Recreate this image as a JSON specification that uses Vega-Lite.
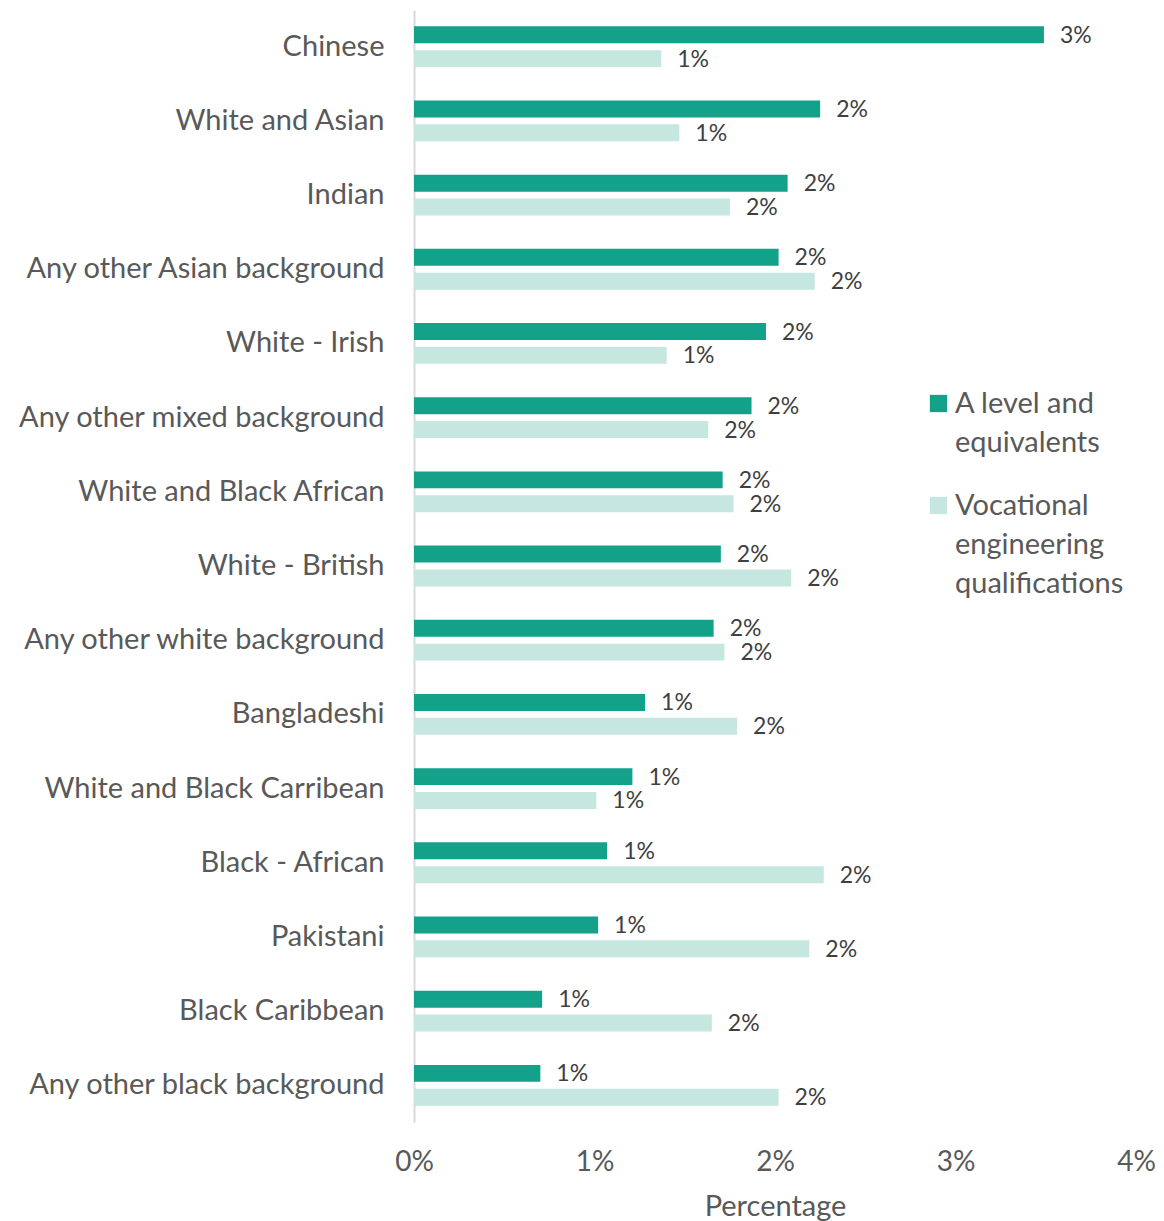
{
  "$schema": "https://vega.github.io/schema/vega-lite/v6.json",
  "autosize": "none",
  "width": 722,
  "height": 1112,
  "padding": {"left": 414, "top": 10, "right": 28, "bottom": 99},
  "background": "white",
  "config": {
    "font": "Lato",
    "view": {"stroke": null},
    "axis": {"labelColor": "#595959", "titleColor": "#595959", "titleFontWeight": "normal"}
  },
  "data": {
    "values": [
      {"group": "Chinese", "series": "A level and equivalents", "value": 0.0349},
      {"group": "Chinese", "series": "Vocational engineering qualifications", "value": 0.0137},
      {"group": "White and Asian", "series": "A level and equivalents", "value": 0.0225},
      {"group": "White and Asian", "series": "Vocational engineering qualifications", "value": 0.0147},
      {"group": "Indian", "series": "A level and equivalents", "value": 0.0207},
      {"group": "Indian", "series": "Vocational engineering qualifications", "value": 0.0175},
      {"group": "Any other Asian background", "series": "A level and equivalents", "value": 0.0202},
      {"group": "Any other Asian background", "series": "Vocational engineering qualifications", "value": 0.0222},
      {"group": "White - Irish", "series": "A level and equivalents", "value": 0.0195},
      {"group": "White - Irish", "series": "Vocational engineering qualifications", "value": 0.0140},
      {"group": "Any other mixed background", "series": "A level and equivalents", "value": 0.0187},
      {"group": "Any other mixed background", "series": "Vocational engineering qualifications", "value": 0.0163},
      {"group": "White and Black African", "series": "A level and equivalents", "value": 0.0171},
      {"group": "White and Black African", "series": "Vocational engineering qualifications", "value": 0.0177},
      {"group": "White - British", "series": "A level and equivalents", "value": 0.0170},
      {"group": "White - British", "series": "Vocational engineering qualifications", "value": 0.0209},
      {"group": "Any other white background", "series": "A level and equivalents", "value": 0.0166},
      {"group": "Any other white background", "series": "Vocational engineering qualifications", "value": 0.0172},
      {"group": "Bangladeshi", "series": "A level and equivalents", "value": 0.0128},
      {"group": "Bangladeshi", "series": "Vocational engineering qualifications", "value": 0.0179},
      {"group": "White and Black Carribean", "series": "A level and equivalents", "value": 0.0121},
      {"group": "White and Black Carribean", "series": "Vocational engineering qualifications", "value": 0.0101},
      {"group": "Black - African", "series": "A level and equivalents", "value": 0.0107},
      {"group": "Black - African", "series": "Vocational engineering qualifications", "value": 0.0227},
      {"group": "Pakistani", "series": "A level and equivalents", "value": 0.0102},
      {"group": "Pakistani", "series": "Vocational engineering qualifications", "value": 0.0219},
      {"group": "Black Caribbean", "series": "A level and equivalents", "value": 0.0071},
      {"group": "Black Caribbean", "series": "Vocational engineering qualifications", "value": 0.0165},
      {"group": "Any other black background", "series": "A level and equivalents", "value": 0.0070},
      {"group": "Any other black background", "series": "Vocational engineering qualifications", "value": 0.0202}
    ]
  },
  "encoding": {
    "y": {
      "field": "group",
      "type": "nominal",
      "sort": null,
      "scale": {"paddingInner": 0.45, "paddingOuter": 0.22},
      "axis": {
        "title": null,
        "ticks": false,
        "domainColor": "#D9D9D9",
        "domainWidth": 2,
        "labelFontSize": 29,
        "labelPadding": 30,
        "labelLimit": 420
      }
    },
    "yOffset": {
      "field": "series",
      "type": "nominal",
      "scale": {"paddingInner": 0.29, "paddingOuter": 0}
    },
    "x": {
      "field": "value",
      "type": "quantitative",
      "scale": {"domain": [0, 0.04]},
      "axis": {
        "title": "Percentage",
        "format": ".0%",
        "values": [0, 0.01, 0.02, 0.03, 0.04],
        "grid": false,
        "domain": false,
        "ticks": false,
        "labelOverlap": false,
        "labelFlush": false,
        "labelFontSize": 28,
        "labelPadding": 26,
        "titleFontSize": 29,
        "titlePadding": 16
      }
    }
  },
  "layer": [
    {
      "mark": {"type": "bar"},
      "encoding": {
        "color": {
          "field": "series",
          "type": "nominal",
          "scale": {
            "domain": ["A level and equivalents", "Vocational engineering qualifications"],
            "range": ["#13A189", "#C5E7E0"]
          },
          "legend": {
            "title": null,
            "orient": "none",
            "legendX": 510,
            "legendY": 379,
            "padding": 0,
            "symbolType": "square",
            "symbolSize": 300,
            "symbolStrokeWidth": 0,
            "labelFontSize": 29,
            "labelColor": "#595959",
            "labelLimit": 300,
            "labelOffset": 2,
            "rowPadding": 33,
            "labelExpr": "datum.label == 'A level and equivalents' ? ['A level and', 'equivalents'] : ['Vocational', 'engineering', 'qualifications']",
            "encode": {
              "labels": {"update": {"lineHeight": {"value": 39}}}
            }
          }
        }
      }
    },
    {
      "mark": {"type": "text", "align": "left", "baseline": "middle", "dx": 16, "dy": 1, "fontSize": 23, "color": "#404040"},
      "encoding": {
        "text": {"field": "value", "type": "quantitative", "format": ".0%"}
      }
    }
  ]
}
